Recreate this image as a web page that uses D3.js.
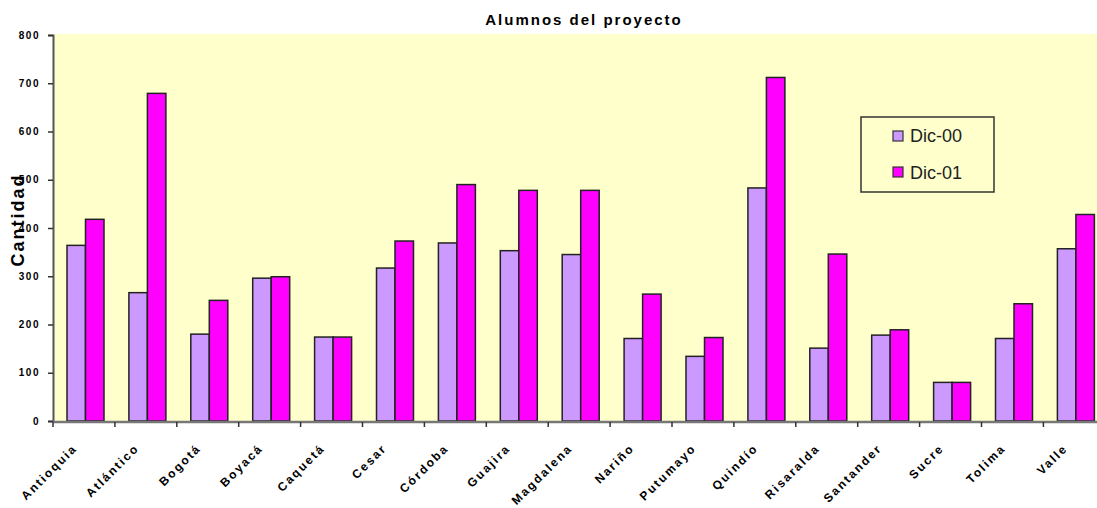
<!DOCTYPE html>
<html lang="es">
  <head>
    <meta charset="utf-8" />
    <title>Alumnos del proyecto</title>
    <script src="https://d3js.org/d3.v7.min.js"></script>
    <style>
      body { margin: 0; background: #fff; }
      text { font-family: "Liberation Sans", Arial, sans-serif; }
    </style>
  </head>
  <body>
    <script type="text/javascript">
      // data
      const departamentos = [
        "Antioquia", "Atlántico", "Bogotá", "Boyacá", "Caquetá", "Cesar",
        "Córdoba", "Guajira", "Magdalena", "Nariño", "Putumayo", "Quindío",
        "Risaralda", "Santander", "Sucre", "Tolima", "Valle",
      ];
      const series = ["Dic-00", "Dic-01"];
      const dic00 = [364, 266, 180, 296, 174, 317, 369, 353, 345, 171, 134, 483, 151, 178, 80, 171, 357];
      const dic01 = [418, 679, 250, 299, 174, 373, 490, 478, 478, 263, 173, 712, 346, 189, 80, 243, 428];
      const yTicks = [0, 100, 200, 300, 400, 500, 600, 700, 800];
      const colors = ["#CC99FF", "#FF00FF"];

      const w = 1097;
      const h = 508;
      const padLeft = 53, padTop = 35, baseY = 421;
      const band = 61.9;

      const svg = d3.select("body").append("svg")
        .attr("width", w)
        .attr("height", h);

      // plot background
      svg.append("rect")
        .attr("x", padLeft)
        .attr("y", padTop - 1)
        .attr("width", w - padLeft)
        .attr("height", baseY - padTop + 1)
        .attr("fill", "#FFFFCC");

      const x0 = d3.scaleBand()
        .domain(departamentos)
        .range([padLeft, padLeft + band * departamentos.length]);
      const x1 = d3.scaleBand()
        .domain(series)
        .range([14, 51]);
      const y = d3.scaleLinear()
        .domain([0, 800])
        .range([baseY, padTop]);

      const rows = departamentos.map((d, i) => ({ name: d, vals: [dic00[i], dic01[i]] }));

      const groups = svg.selectAll("g.grp")
        .data(rows)
        .enter()
        .append("g")
        .attr("class", "grp")
        .attr("transform", (d) => "translate(" + x0(d.name) + ",0)");

      groups.selectAll("rect")
        .data((d) => d.vals.map((v, j) => ({ s: series[j], v: v, j: j })))
        .enter()
        .append("rect")
        .attr("x", (d) => x1(d.s))
        .attr("y", (d) => y(d.v))
        .attr("width", x1.bandwidth())
        .attr("height", (d) => y(0) - y(d.v))
        .attr("fill", (d) => colors[d.j])
        .attr("stroke", "#222")
        .attr("stroke-width", 1.5);

      // y axis
      const yAxis = d3.axisLeft(y).tickValues(yTicks).tickSize(5).tickPadding(8);
      const gy = svg.append("g")
        .attr("transform", "translate(" + padLeft + ",0)")
        .call(yAxis);
      gy.select(".domain").attr("stroke", "#555").attr("stroke-width", 2);
      gy.selectAll(".tick line").attr("stroke", "#333").attr("stroke-width", 1.5);
      gy.selectAll(".tick text")
        .attr("font-size", "10px")
        .attr("font-weight", "bold")
        .attr("letter-spacing", "1.5px")
        .attr("fill", "#000");

      // x axis: ticks at band boundaries
      const gx = svg.append("g");
      gx.append("line")
        .attr("x1", padLeft)
        .attr("x2", w)
        .attr("y1", baseY + 1)
        .attr("y2", baseY + 1)
        .attr("stroke", "#777")
        .attr("stroke-width", 2.5);
      gx.selectAll("line.tk")
        .data(departamentos)
        .enter()
        .append("line")
        .attr("class", "tk")
        .attr("x1", (d) => x0(d))
        .attr("x2", (d) => x0(d))
        .attr("y1", baseY + 1)
        .attr("y2", baseY + 6)
        .attr("stroke", "#333")
        .attr("stroke-width", 1.5);
      gx.selectAll("text")
        .data(departamentos)
        .enter()
        .append("text")
        .text((d) => d)
        .attr("transform", (d) =>
          "translate(" + (x0(d) + x0.bandwidth() / 2 - 6) + "," + 449 + ") rotate(-45)")
        .attr("text-anchor", "end")
        .attr("font-size", "12px")
        .attr("font-weight", "bold")
        .attr("letter-spacing", "2px")
        .attr("fill", "#000");

      // title
      svg.append("text")
        .attr("x", 584)
        .attr("y", 25)
        .attr("text-anchor", "middle")
        .attr("font-size", "15px")
        .attr("font-weight", "bold")
        .attr("letter-spacing", "2px")
        .text("Alumnos del proyecto");

      // y label
      svg.append("text")
        .attr("transform", "translate(24,220) rotate(-90)")
        .attr("text-anchor", "middle")
        .attr("font-size", "18px")
        .attr("font-weight", "bold")
        .attr("letter-spacing", "2px")
        .text("Cantidad");

      // legend
      const legend = svg.append("g").attr("transform", "translate(861,117)");
      legend.append("rect")
        .attr("width", 133)
        .attr("height", 75)
        .attr("fill", "#FFFFCC")
        .attr("stroke", "#333")
        .attr("stroke-width", 1.5);
      series.forEach((s, j) => {
        legend.append("rect")
          .attr("x", 32)
          .attr("y", 14 + j * 36)
          .attr("width", 10)
          .attr("height", 10)
          .attr("fill", colors[j])
          .attr("stroke", "#333")
          .attr("stroke-width", 1.2);
        legend.append("text")
          .attr("x", 49)
          .attr("y", 25 + j * 37)
          .attr("font-size", "18px")
          .attr("fill", "#222")
          .text(s);
      });
    </script>
  </body>
</html>
